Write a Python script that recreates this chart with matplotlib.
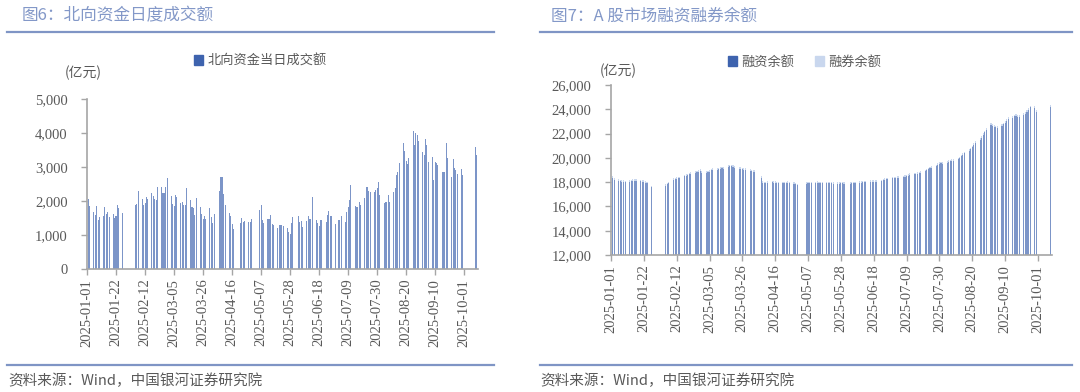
import numpy as np
import pandas as pd
import matplotlib
matplotlib.use('Agg')
import matplotlib.pyplot as plt
from matplotlib.lines import Line2D
from matplotlib.patches import Patch
from matplotlib.ticker import FuncFormatter

plt.rcParams['font.family'] = ['Noto Sans CJK SC', 'DejaVu Sans']

START = pd.Timestamp('2025-01-01')
END = pd.Timestamp('2025-10-10')

# market holidays (weekdays) for A-shares, plus extra closures of northbound (HK holidays)
ashare_holidays = ['2025-01-01', '2025-01-28', '2025-01-29', '2025-01-30', '2025-01-31',
                   '2025-02-03', '2025-02-04', '2025-04-04', '2025-05-01', '2025-05-02',
                   '2025-05-05', '2025-06-02', '2025-10-01', '2025-10-02', '2025-10-03',
                   '2025-10-06', '2025-10-07', '2025-10-08']
north_closed = ['2025-04-18', '2025-04-21', '2025-07-01']

# 北向资金当日成交额 (亿元), one value per northbound trading day
north_turnover = [
    2050, 1850,
    1680, 1600, 1860, 1440, 1530,
    1560, 1830, 1620, 1680, 1530,
    1620, 1500, 1560, 1880, 1800,
    1650,
    1880, 1900, 2290,
    2050, 1880, 1940, 2110, 2060,
    2230, 2160, 2060, 2020, 2410,
    2420, 2240, 2250, 2420, 2690,
    2150, 1910, 1860, 2190, 2120,
    1940, 1960, 1890, 1880, 2380,
    2020, 1830, 1800, 1600, 2090,
    1820, 1620, 1480, 1560, 1480,
    1780,
    1540, 1340, 1610,
    2290, 2700, 2710, 2210, 1890,
    1640, 1560, 1330, 1180,
    1340, 1500, 1390, 1410,
    1380, 1370, 1480,
    1740, 1890, 1450, 1340,
    1480, 1480, 1590, 1320, 1290,
    1220, 1300, 1290, 1280, 1260,
    1220, 1100, 1040, 1360, 1520,
    1570, 1390, 1410, 1230,
    1410, 1570, 1460, 1480, 2130,
    1440, 1340, 1260, 1450, 1450,
    1370, 1590, 1700, 1570, 1560,
    1310,
    1440, 1450, 1560,
    1370, 1680, 1820, 2020, 2460,
    1860, 1830, 1830, 1970, 1880,
    2090, 2400, 2400, 2300, 2270,
    2270, 2320, 2370, 2550,
    2170,
    1930, 1980, 1980, 2180, 1980,
    2260, 2370, 2760, 2840, 3110,
    3700, 3480, 3180, 3090, 3260,
    4060, 3650, 4000, 3940, 3770,
    3440, 3350, 3820, 3650, 3150,
    3290, 2620, 3140, 3120, 3060,
    2850, 2850, 2850, 3700, 3260,
    2700, 3230, 2970, 2910, 2800,
    2940, 2760,
    3590, 3350,
]

# 融资余额 (亿元), one value per A-share trading day (data up to 2025-10-09)
margin_finance = [
    18370, 18180,
    18100, 18070, 18050, 18020, 17990,
    18020, 18070, 18100, 18120, 18090,
    18070, 18050, 18020, 17970, 17920,
    17570,
    17720, 17820, 17920,
    18170, 18220, 18270, 18320, 18320,
    18470, 18520, 18570, 18650, 18670,
    18770, 18820, 18870, 18920, 18770,
    18750, 18820, 18870, 18970, 19020,
    19020, 19070, 19120, 19150, 19120,
    19250, 19290, 19300, 19250, 19200,
    19120, 19100, 19070, 19040, 19010,
    18930,
    18900, 18870, 18830,
    18380, 17940, 17900, 17930, 17960,
    17980, 17960, 17940, 17920, 17930,
    17920, 17910, 17930, 17940, 17920,
    17870, 17830, 17760,
    17870, 17890, 17900, 17910,
    17930, 17940, 17930, 17910, 17890,
    17900, 17920, 17910, 17890, 17860,
    17870, 17880, 17890, 17900, 17870,
    17880, 17900, 17910, 17910,
    17940, 17970, 17990, 18000, 17980,
    18020, 18040, 18050, 18050, 18040,
    18080, 18160, 18210, 18240, 18260,
    18300, 18320, 18340, 18360, 18380,
    18400, 18440, 18480, 18530, 18600,
    18640, 18670, 18700, 18740, 18780,
    18880, 18980, 19060, 19130, 19180,
    19320, 19420, 19520, 19560, 19520,
    19570, 19670, 19720, 19770, 19750,
    19870, 19970, 20120, 20270, 20370,
    20570, 20720, 20870, 21070, 21260,
    21470, 21670, 21920, 22110, 22290,
    22710, 22660, 22560, 22510, 22460,
    22610, 22760, 22860, 23060, 23190,
    23300, 23410, 23460, 23400, 23350,
    23550, 23650, 23800, 23950, 24150,
    24100, 23750,
    24190,
]
# 融券余额 (亿元)
margin_short = [
    130, 130,
    130, 130, 130, 130, 130,
    130, 130, 130, 130, 130,
    130, 130, 130, 130, 130,
    130,
    130, 130, 130,
    130, 130, 130, 130, 130,
    130, 130, 130, 130, 130,
    130, 130, 130, 130, 130,
    130, 130, 130, 130, 130,
    130, 130, 130, 130, 130,
    130, 130, 130, 130, 130,
    130, 130, 130, 130, 130,
    130,
    130, 130, 130,
    120, 120, 120, 120, 120,
    120, 120, 120, 120, 120,
    120, 120, 120, 120, 120,
    120, 120, 120,
    120, 120, 120, 120,
    120, 120, 120, 120, 120,
    120, 120, 120, 120, 120,
    120, 120, 120, 120, 120,
    120, 120, 120, 120,
    120, 120, 120, 120, 120,
    120, 120, 120, 120, 120,
    120, 120, 120, 120, 120,
    120, 120, 120, 120, 120,
    120, 120, 120, 120, 120,
    120, 120, 120, 120, 120,
    120, 120, 120, 120, 120,
    130, 130, 130, 130, 130,
    130, 130, 130, 130, 130,
    130, 130, 130, 130, 130,
    130, 130, 130, 130, 130,
    140, 140, 140, 140, 140,
    140, 140, 140, 140, 140,
    150, 150, 150, 150, 150,
    150, 150, 150, 150, 150,
    150, 150, 150, 150, 150,
    150, 150,
    160,
]

ashare_days = [d for d in pd.bdate_range(START, END) if d.strftime('%Y-%m-%d') not in ashare_holidays]
north_days = [d for d in ashare_days if d.strftime('%Y-%m-%d') not in north_closed]
margin_days = [d for d in ashare_days if d <= pd.Timestamp('2025-10-09')]

x_north = np.array([(d - START).days for d in north_days])
x_margin = np.array([(d - START).days for d in margin_days])

tick_days = np.arange(0, 274, 21)
tick_labels = [(START + pd.Timedelta(days=int(t))).strftime('%Y-%m-%d') for t in tick_days]

W, H = 1080, 392
fig = plt.figure(figsize=(W / 100, H / 100), dpi=100)

dark = '#3E63AE'
light = '#C9D7EE'
axis_gray = '#A6A6A6'
txt_gray = '#595959'
title_col = '#8398C8'
line_col = '#7F95C5'


def style_axes(ax, xmax):
    for s in ['top', 'right']:
        ax.spines[s].set_visible(False)
    for s in ['left', 'bottom']:
        ax.spines[s].set_color(axis_gray)
        ax.spines[s].set_linewidth(1.2)
    ax.set_xlim(0, xmax)
    ax.set_xticks(tick_days)
    ax.set_xticklabels(tick_labels, rotation=90)
    ax.yaxis.set_major_formatter(FuncFormatter(lambda v, p: '{:,.0f}'.format(v)))
    ax.tick_params(axis='both', colors=axis_gray, length=4, width=1.0, labelcolor=txt_gray,
                   labelsize=10.5, labelfontfamily='Liberation Serif')
    ax.tick_params(axis='x', pad=3)
    ax.tick_params(axis='y', pad=10)


# left chart
ax1 = fig.add_axes([87 / W, 1 - 269 / H, (478 - 87) / W, (269 - 99) / H])
ax1.bar(x_north, north_turnover, width=0.75, color=dark, alpha=0.68, linewidth=0)
ax1.set_ylim(0, 5000)
ax1.set_yticks(np.arange(0, 5001, 1000))
style_axes(ax1, 283)

# right chart
ax2 = fig.add_axes([611 / W, 1 - 255 / H, (1052 - 611) / W, (255 - 85) / H])
ax2.bar(x_margin, margin_finance, width=0.7, color=dark, alpha=0.68, linewidth=0)
ax2.bar(x_margin, margin_short, bottom=margin_finance, width=0.7, color=light, linewidth=0)
ax2.set_ylim(12000, 26000)
ax2.set_yticks(np.arange(12000, 26001, 2000))
style_axes(ax2, 282)

# titles, rules and notes
fig.text(22 / W, 1 - 16 / H, '图6：北向资金日度成交额', fontsize=12, color=title_col, va='center')
fig.text(551 / W, 1 - 16 / H, '图7：A 股市场融资融券余额', fontsize=12, color=title_col, va='center')
for x0, x1 in [(7, 494), (540, 1072)]:
    for yy in [32, 365]:
        fig.add_artist(Line2D([x0 / W, x1 / W], [1 - yy / H, 1 - yy / H],
                              transform=fig.transFigure, color=line_col, linewidth=1.6))
fig.text(8 / W, 1 - 381 / H, '资料来源：Wind，中国银河证券研究院', fontsize=10.5, color=txt_gray,
         va='center', style='italic')
fig.text(540 / W, 1 - 381 / H, '资料来源：Wind，中国银河证券研究院', fontsize=10.5, color=txt_gray,
         va='center', style='italic')

fig.text(65 / W, 1 - 73 / H, '(亿元)', fontsize=10, color=txt_gray, va='center')
fig.text(600 / W, 1 - 71 / H, '(亿元)', fontsize=10, color=txt_gray, va='center')

fig.legend(handles=[Patch(color=dark, label='北向资金当日成交额')], loc='center left',
           bbox_to_anchor=(182 / W, 1 - 61 / H), frameon=False, fontsize=9.5,
           handlelength=0.7, handleheight=0.7, handletextpad=0.3, labelcolor=txt_gray)
fig.legend(handles=[Patch(color=dark, label='融资余额'), Patch(color=light, label='融券余额')],
           loc='center left', bbox_to_anchor=(716 / W, 1 - 62 / H), frameon=False, fontsize=9.5,
           ncol=2, columnspacing=1.6, handlelength=0.7, handleheight=0.7, handletextpad=0.3,
           labelcolor=txt_gray)

fig.savefig('out.png', dpi=100)
